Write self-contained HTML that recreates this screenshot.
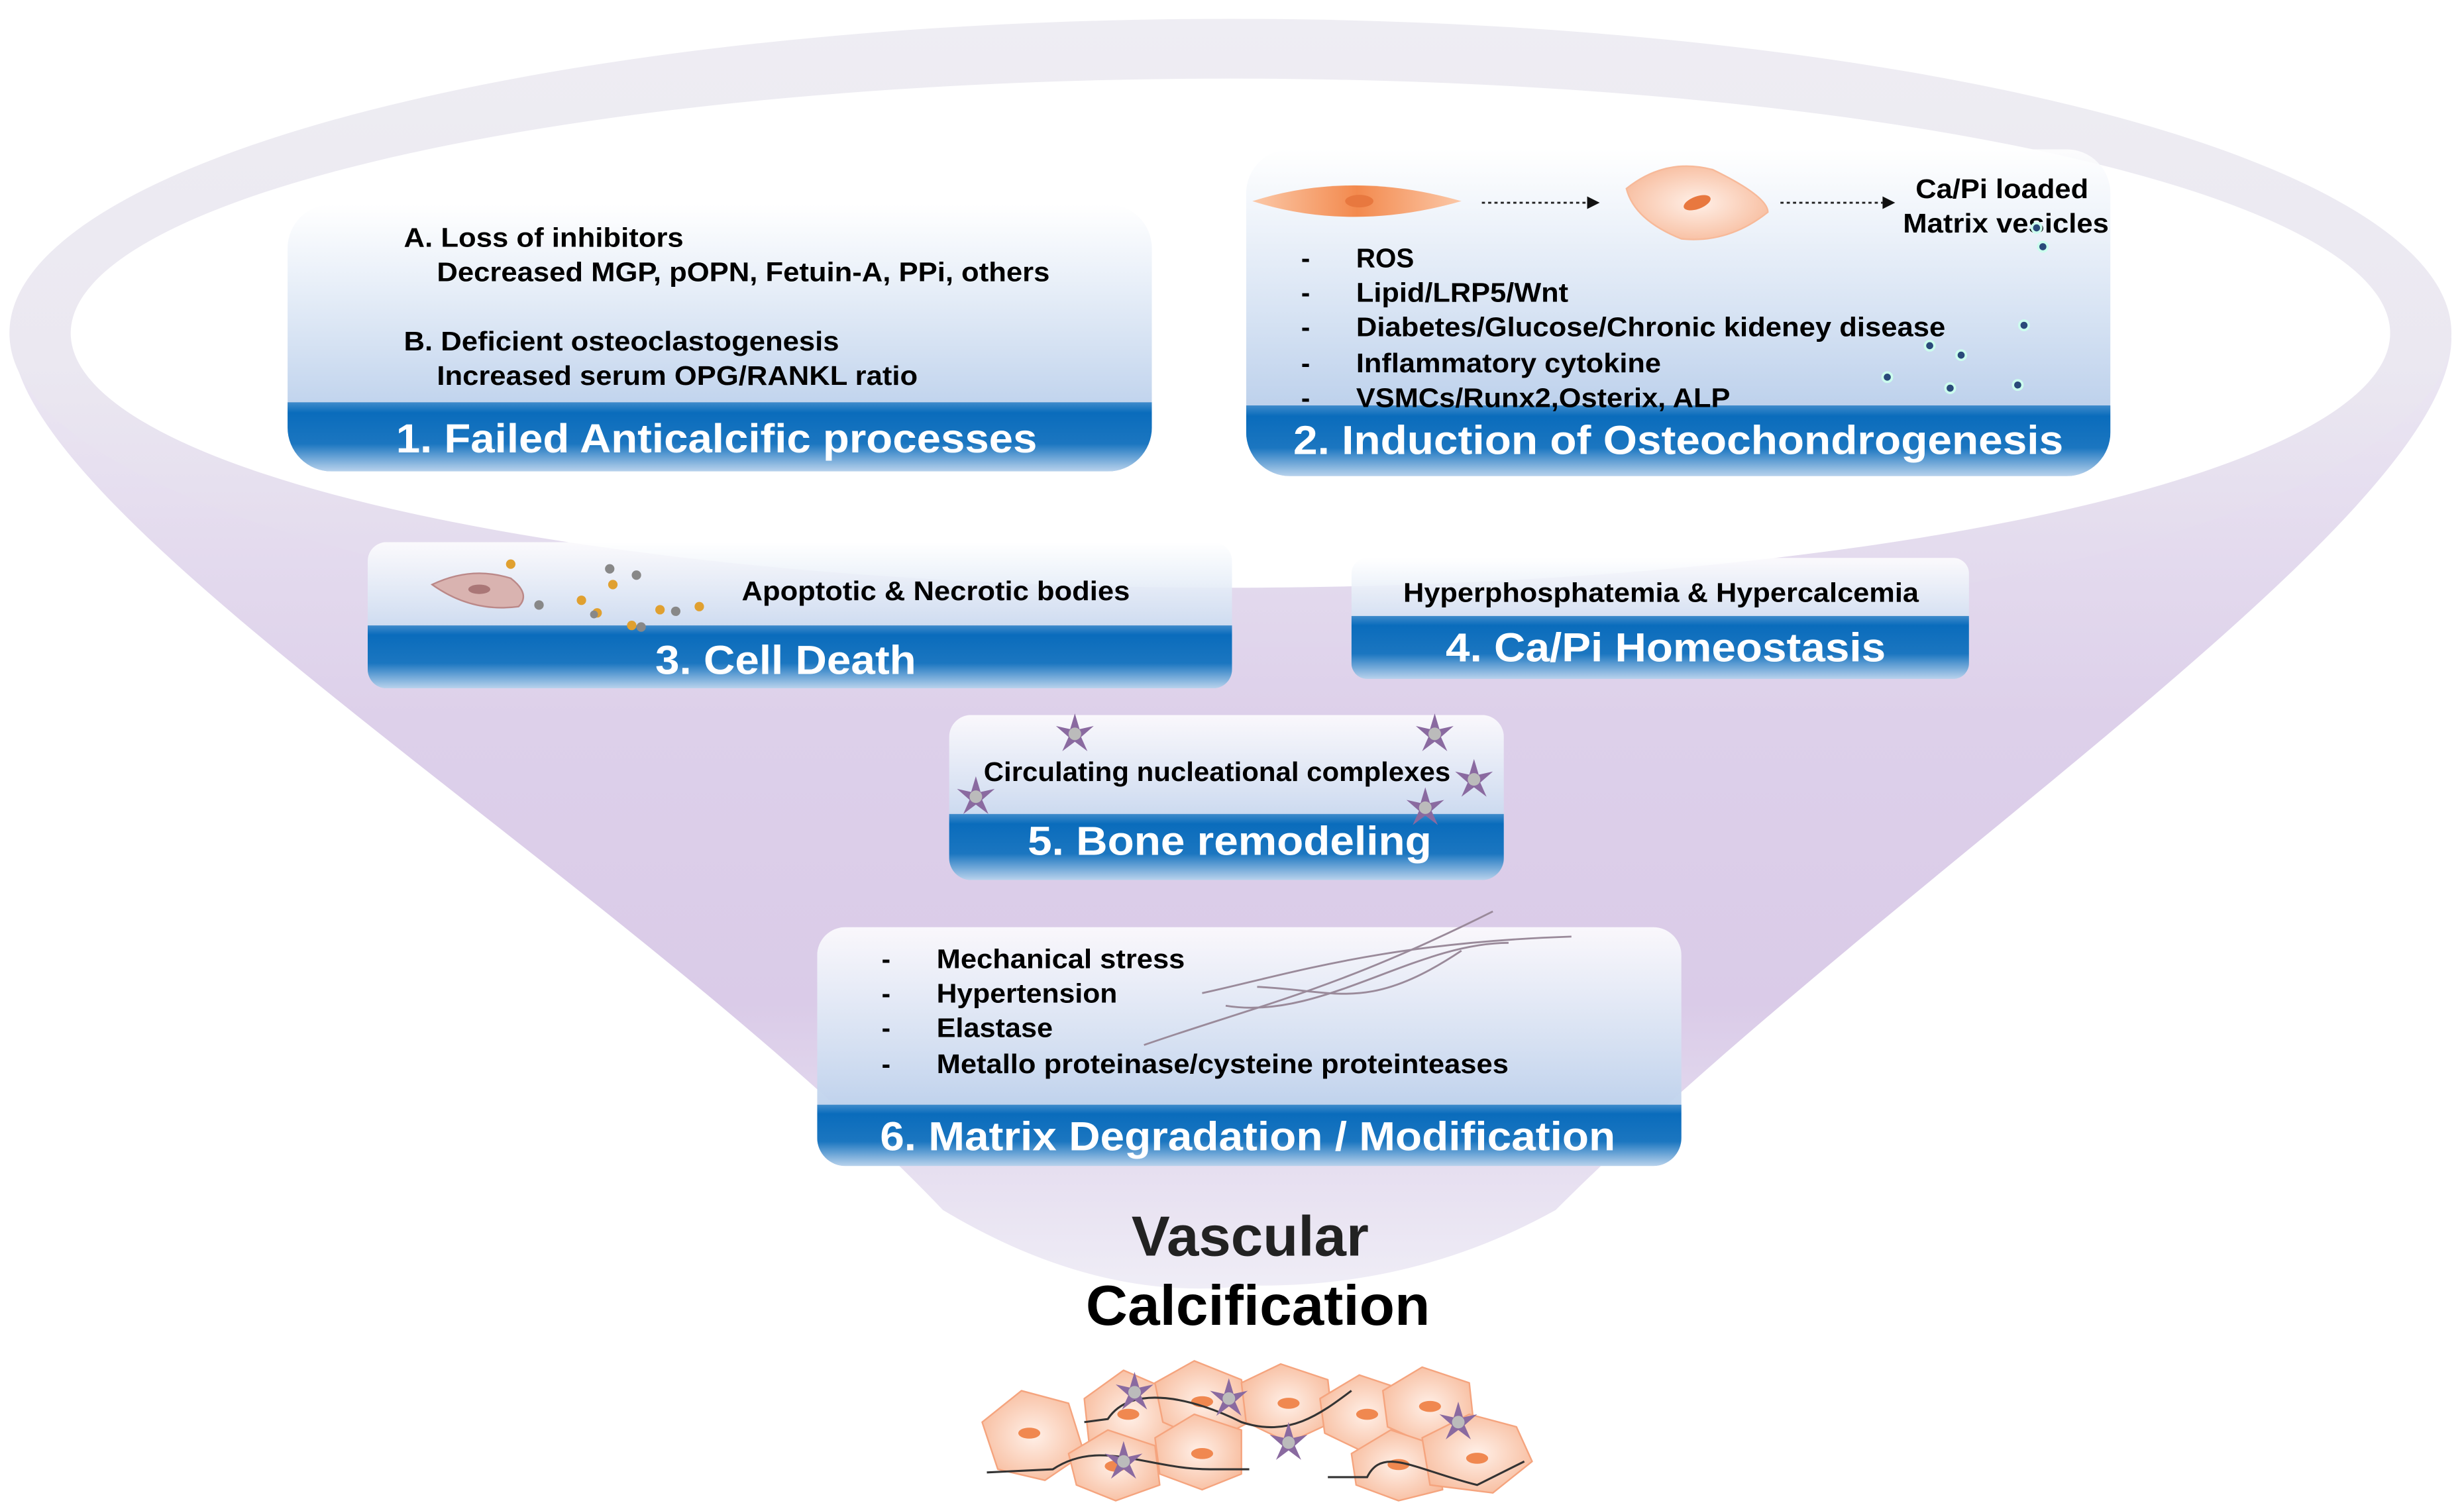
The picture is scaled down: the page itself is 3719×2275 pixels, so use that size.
<!DOCTYPE html>
<html><head><meta charset="utf-8"><style>
html,body{margin:0;padding:0;background:#fff;}
svg{display:block;}
text{font-family:"Liberation Sans",Arial,sans-serif;font-weight:bold;}
</style></head><body>
<svg width="3719" height="2275" viewBox="0 0 1568 959" preserveAspectRatio="none" xmlns="http://www.w3.org/2000/svg">
<defs>
<linearGradient id="cone" x1="0" y1="0" x2="0" y2="1">
<stop offset="0" stop-color="#ece8f3"/>
<stop offset="0.4" stop-color="#ddd0ea"/>
<stop offset="0.7" stop-color="#dacbe8"/>
<stop offset="1" stop-color="#efedf6"/>
</linearGradient>
<linearGradient id="rim" x1="0" y1="0" x2="0" y2="1">
<stop offset="0" stop-color="#eeedf3"/>
<stop offset="0.55" stop-color="#ebe8f1"/>
<stop offset="1" stop-color="#e0d5ec"/>
</linearGradient>
<linearGradient id="bx" x1="0" y1="0" x2="0" y2="1">
<stop offset="0" stop-color="#ffffff" stop-opacity="0.85"/>
<stop offset="1" stop-color="#a9c3e6"/>
</linearGradient>
<linearGradient id="band" x1="0" y1="0" x2="0" y2="1">
<stop offset="0" stop-color="#3f8bcb"/>
<stop offset="0.15" stop-color="#0a6cbc"/>
<stop offset="0.6" stop-color="#1b76c0"/>
<stop offset="1" stop-color="#b8d2ec"/>
</linearGradient>
<radialGradient id="cell" cx="0.5" cy="0.5" r="0.6">
<stop offset="0" stop-color="#fff0e8"/>
<stop offset="1" stop-color="#f7b999"/>
</radialGradient>
<linearGradient id="fib" x1="0" y1="0" x2="1" y2="0">
<stop offset="0" stop-color="#fbc8a8"/>
<stop offset="0.5" stop-color="#f38a4e"/>
<stop offset="1" stop-color="#fbc8a8"/>
</linearGradient>
<clipPath id="c1"><rect x="183" y="130" width="550" height="170" rx="28"/></clipPath>
<clipPath id="c2"><rect x="793" y="95" width="550" height="208" rx="28"/></clipPath>
<clipPath id="c3"><rect x="234" y="345" width="550" height="93" rx="12"/></clipPath>
<clipPath id="c4"><rect x="860" y="355" width="393" height="77" rx="10"/></clipPath>
<clipPath id="c5"><rect x="604" y="455" width="353" height="105" rx="14"/></clipPath>
<clipPath id="c6"><rect x="520" y="590" width="550" height="152" rx="18"/></clipPath>
<g id="star"><path d="M0,-13 L3,-3 L12,-5 L4,2 L8,11 L0,5 L-8,11 L-4,2 L-12,-5 L-3,-3 Z" fill="#8a6aa0"/><circle r="4" fill="#bbb"/></g>
</defs>

<!-- funnel -->
<path d="M8,215 C8,330 400,560 600,770 Q700,830 795,818 Q900,820 990,770 C1200,560 1560,330 1560,215 Z" fill="url(#cone)"/>
<ellipse cx="783" cy="212" rx="777" ry="200" fill="url(#rim)"/>
<ellipse cx="783" cy="212" rx="738" ry="162" fill="#ffffff"/>

<!-- Box 1 -->
<g clip-path="url(#c1)">
<rect x="183" y="130" width="550" height="170" fill="url(#bx)"/>
<rect x="183" y="256" width="550" height="44" fill="url(#band)"/>
</g>
<text x="257" y="157" font-size="17" textLength="178" lengthAdjust="spacingAndGlyphs">A. Loss of inhibitors</text>
<text x="278" y="179" font-size="17" textLength="390" lengthAdjust="spacingAndGlyphs">Decreased MGP, pOPN, Fetuin-A,  PPi, others</text>
<text x="257" y="223" font-size="17" textLength="277" lengthAdjust="spacingAndGlyphs">B. Deficient osteoclastogenesis</text>
<text x="278" y="245" font-size="17" textLength="306" lengthAdjust="spacingAndGlyphs">Increased serum OPG/RANKL ratio</text>
<text x="252" y="288" font-size="26" fill="#fff" textLength="408" lengthAdjust="spacingAndGlyphs">1. Failed Anticalcific processes</text>

<!-- Box 2 -->
<g clip-path="url(#c2)">
<rect x="793" y="95" width="550" height="208" fill="url(#bx)"/>
<rect x="793" y="258" width="550" height="45" fill="url(#band)"/>
</g>
<path d="M797,128 Q860,108 930,128 Q860,148 797,128 Z" fill="url(#fib)"/>
<ellipse cx="865" cy="128" rx="9" ry="4" fill="#e8783f"/>
<line x1="943" y1="129" x2="1010" y2="129" stroke="#222" stroke-width="1.2" stroke-dasharray="2,2"/>
<path d="M1010,125 L1018,129 L1010,133 Z" fill="#111"/>
<path d="M1035,120 Q1060,100 1090,108 Q1125,125 1125,135 Q1100,155 1070,152 Q1040,140 1035,120 Z" fill="url(#cell)" stroke="#f7b999"/>
<ellipse cx="1080" cy="129" rx="9" ry="4" fill="#e8783f" transform="rotate(-20 1080 129)"/>
<line x1="1133" y1="129" x2="1198" y2="129" stroke="#222" stroke-width="1.2" stroke-dasharray="2,2"/>
<path d="M1198,125 L1206,129 L1198,133 Z" fill="#111"/>
<text x="1219" y="126" font-size="17" textLength="110" lengthAdjust="spacingAndGlyphs">Ca/Pi loaded</text>
<text x="1211" y="148" font-size="17" textLength="131" lengthAdjust="spacingAndGlyphs">Matrix vesicles</text>
<g fill="#2a4a7a" stroke="#cfe" stroke-width="1.5">
<circle cx="1296" cy="145" r="3"/><circle cx="1300" cy="157" r="3"/><circle cx="1288" cy="207" r="3"/><circle cx="1228" cy="220" r="3"/><circle cx="1248" cy="226" r="3"/><circle cx="1201" cy="240" r="3"/><circle cx="1241" cy="247" r="3"/><circle cx="1284" cy="245" r="3"/>
</g>
<g font-size="17">
<text x="828" y="170">-</text><text x="863" y="170">ROS</text>
<text x="828" y="192">-</text><text x="863" y="192" textLength="135" lengthAdjust="spacingAndGlyphs">Lipid/LRP5/Wnt</text>
<text x="828" y="214">-</text><text x="863" y="214" textLength="375" lengthAdjust="spacingAndGlyphs">Diabetes/Glucose/Chronic kideney disease</text>
<text x="828" y="237">-</text><text x="863" y="237" textLength="194" lengthAdjust="spacingAndGlyphs">Inflammatory  cytokine</text>
<text x="828" y="259">-</text><text x="863" y="259" textLength="238" lengthAdjust="spacingAndGlyphs">VSMCs/Runx2,Osterix, ALP</text>
</g>
<text x="823" y="289" font-size="26" fill="#fff" textLength="490" lengthAdjust="spacingAndGlyphs">2. Induction of Osteochondrogenesis</text>

<!-- Box 3 -->
<g clip-path="url(#c3)">
<rect x="234" y="345" width="550" height="93" fill="url(#bx)"/>
<rect x="234" y="398" width="550" height="40" fill="url(#band)"/>
</g>
<path d="M275,372 Q300,360 325,368 Q338,378 330,386 Q300,390 275,372 Z" fill="#d9b3b0" stroke="#b88"/>
<ellipse cx="305" cy="375" rx="7" ry="3" fill="#a77"/>
<g fill="#e0a030"><circle cx="325" cy="359" r="3"/><circle cx="390" cy="372" r="3"/><circle cx="370" cy="382" r="3"/><circle cx="420" cy="388" r="3"/><circle cx="445" cy="386" r="3"/><circle cx="402" cy="398" r="3"/><circle cx="380" cy="390" r="3"/></g>
<g fill="#888"><circle cx="343" cy="385" r="3"/><circle cx="388" cy="362" r="3"/><circle cx="405" cy="366" r="3"/><circle cx="430" cy="389" r="3"/><circle cx="408" cy="399" r="3"/><circle cx="378" cy="391" r="2.5"/></g>
<text x="472" y="382" font-size="17" textLength="247" lengthAdjust="spacingAndGlyphs">Apoptotic  &amp; Necrotic bodies</text>
<text x="417" y="429" font-size="26" fill="#fff" textLength="166" lengthAdjust="spacingAndGlyphs">3. Cell Death</text>

<!-- Box 4 -->
<g clip-path="url(#c4)">
<rect x="860" y="355" width="393" height="77" fill="url(#bx)"/>
<rect x="860" y="392" width="393" height="40" fill="url(#band)"/>
</g>
<text x="893" y="383" font-size="17" textLength="328" lengthAdjust="spacingAndGlyphs">Hyperphosphatemia  &amp; Hypercalcemia</text>
<text x="920" y="421" font-size="26" fill="#fff" textLength="280" lengthAdjust="spacingAndGlyphs">4. Ca/Pi Homeostasis</text>

<!-- Box 5 -->
<g clip-path="url(#c5)">
<rect x="604" y="455" width="353" height="105" fill="url(#bx)"/>
<rect x="604" y="518" width="353" height="42" fill="url(#band)"/>
</g>
<use href="#star" x="684" y="467"/><use href="#star" x="913" y="467"/><use href="#star" x="621" y="507"/><use href="#star" x="938" y="496"/><use href="#star" x="907" y="514"/>
<text x="626" y="497" font-size="17" textLength="297" lengthAdjust="spacingAndGlyphs">Circulating nucleational complexes</text>
<text x="654" y="544" font-size="26" fill="#fff" textLength="257" lengthAdjust="spacingAndGlyphs">5. Bone remodeling</text>

<!-- Box 6 -->
<g clip-path="url(#c6)">
<rect x="520" y="590" width="550" height="152" fill="url(#bx)"/>
<rect x="520" y="703" width="550" height="39" fill="url(#band)"/>
</g>
<g fill="none" stroke="#9a8a9a" stroke-width="1.2">
<path d="M728,665 C800,640 850,630 950,580"/>
<path d="M765,632 C820,620 880,600 1000,596"/>
<path d="M780,640 C840,650 900,600 960,600"/>
<path d="M800,628 C850,630 870,645 930,605"/>
</g>
<g font-size="17">
<text x="561" y="616">-</text><text x="596" y="616" textLength="158" lengthAdjust="spacingAndGlyphs">Mechanical stress</text>
<text x="561" y="638">-</text><text x="596" y="638" textLength="115" lengthAdjust="spacingAndGlyphs">Hypertension</text>
<text x="561" y="660">-</text><text x="596" y="660" textLength="74" lengthAdjust="spacingAndGlyphs">Elastase</text>
<text x="561" y="683">-</text><text x="596" y="683" textLength="364" lengthAdjust="spacingAndGlyphs">Metallo proteinase/cysteine proteinteases</text>
</g>
<text x="560" y="732" font-size="26" fill="#fff" textLength="468" lengthAdjust="spacingAndGlyphs">6. Matrix Degradation / Modification</text>

<!-- Title -->
<text x="720" y="799" font-size="36" fill="#222" textLength="151" lengthAdjust="spacingAndGlyphs">Vascular</text>
<text x="691" y="843" font-size="36" fill="#000" textLength="219" lengthAdjust="spacingAndGlyphs">Calcification</text>

<!-- cells illustration -->
<g stroke="#f5a47e" stroke-width="1" fill="url(#cell)" stroke-linejoin="round">
<path d="M625,905 L650,885 L680,893 L690,925 L665,942 L635,935 Z"/>
<path d="M690,890 L715,872 L745,885 L748,915 L720,930 L693,918 Z"/>
<path d="M735,880 L760,866 L790,878 L795,905 L770,918 L740,905 Z"/>
<path d="M680,925 L705,910 L735,920 L738,945 L710,955 L685,945 Z"/>
<path d="M735,915 L760,900 L790,910 L790,938 L765,948 L738,938 Z"/>
<path d="M790,880 L815,868 L845,878 L848,905 L820,918 L793,905 Z"/>
<path d="M840,890 L865,875 L895,885 L898,912 L870,925 L843,912 Z"/>
<path d="M880,885 L905,870 L935,880 L938,908 L910,920 L883,908 Z"/>
<path d="M860,925 L885,910 L915,920 L918,948 L890,955 L863,945 Z"/>
<path d="M905,915 L935,900 L965,908 L975,930 L950,950 L910,945 Z"/>
</g>
<g fill="#f08850">
<ellipse cx="655" cy="912" rx="7" ry="3.5"/><ellipse cx="718" cy="900" rx="7" ry="3.5"/><ellipse cx="765" cy="892" rx="7" ry="3.5"/><ellipse cx="710" cy="933" rx="7" ry="3.5"/><ellipse cx="765" cy="925" rx="7" ry="3.5"/><ellipse cx="820" cy="893" rx="7" ry="3.5"/><ellipse cx="870" cy="900" rx="7" ry="3.5"/><ellipse cx="910" cy="895" rx="7" ry="3.5"/><ellipse cx="890" cy="932" rx="7" ry="3.5"/><ellipse cx="940" cy="928" rx="7" ry="3.5"/>
</g>
<g fill="none" stroke="#333" stroke-width="1.3">
<path d="M690,905 L705,903 C720,880 760,890 790,905 C820,915 840,900 860,885"/>
<path d="M628,937 L670,935 C700,915 730,935 770,935 L795,935"/>
<path d="M845,940 L870,940 C880,920 900,935 940,945 L970,930"/>
</g>
<use href="#star" x="722" y="886"/><use href="#star" x="715" y="930"/><use href="#star" x="782" y="890"/><use href="#star" x="820" y="918"/><use href="#star" x="928" y="905"/>
</svg>
</body></html>
